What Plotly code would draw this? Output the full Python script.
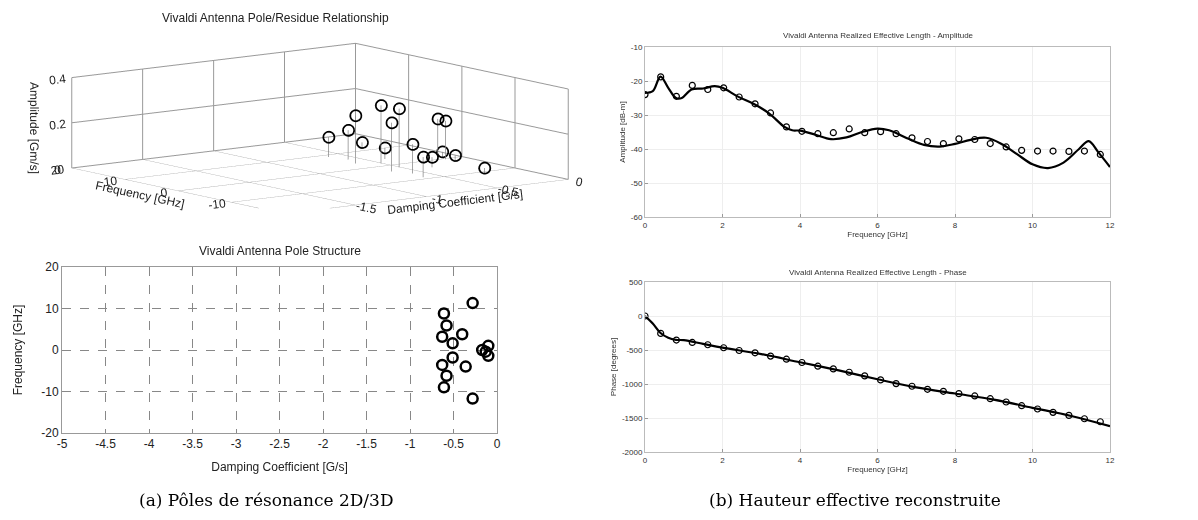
import plotly.graph_objects as go

# poles (damping [G/s], frequency [GHz]) and residue amplitude [Gm/s]
pole_damping = [-0.61, -0.61, -0.58, -0.58, -0.63, -0.63, -0.51, -0.51,
                -0.40, -0.36, -0.28, -0.28, -0.17, -0.10, -0.10, -0.13]
pole_freq = [8.8, -9.0, 5.9, -6.2, 3.2, -3.6, 1.6, -1.8,
             3.8, -4.0, 11.3, -11.7, 0.0, 1.0, -1.4, -0.4]
pole_amp = [0.088, 0.09, 0.131, 0.13, 0.213, 0.216, 0.257, 0.26,
            0.05, 0.045, 0.027, 0.03, 0.18, 0.024, 0.02, 0.17]

# measured effective length (markers)
meas_freq = [0, 0.405, 0.81, 1.22, 1.62, 2.03, 2.43, 2.84, 3.24, 3.65,
             4.05, 4.46, 4.86, 5.27, 5.67, 6.08, 6.48, 6.89, 7.29, 7.70,
             8.10, 8.51, 8.91, 9.32, 9.72, 10.13, 10.53, 10.94, 11.34, 11.75]
meas_amp = [-24.0, -18.8, -24.5, -21.3, -22.5, -22.0, -24.7, -26.7, -29.4, -33.5,
            -34.8, -35.5, -35.2, -34.1, -35.2, -34.9, -35.5, -36.7, -37.8, -38.4,
            -37.0, -37.2, -38.4, -39.4, -40.4, -40.6, -40.6, -40.7, -40.6, -41.6]
meas_phase = [0, -256, -354, -389, -423, -467, -507, -541, -590, -635,
              -684, -738, -778, -827, -881, -940, -994, -1033, -1078, -1107,
              -1142, -1176, -1216, -1265, -1319, -1368, -1417, -1462, -1511, -1555]

# reconstructed curves
rec_freq_a = [0, 0.2, 0.4, 0.6, 0.8, 0.95, 1.2, 1.5, 1.8, 2.0, 2.4, 2.8, 3.2, 3.6,
              3.8, 4.0, 4.4, 4.8, 5.2, 5.6, 6.0, 6.3, 6.8, 7.2, 7.6, 8.0, 8.4,
              8.8, 9.2, 9.6, 10.0, 10.4, 10.8, 11.2, 11.45, 11.7, 12.0]
rec_amp = [-23.5, -23.0, -18.7, -22.0, -25.0, -25.0, -22.5, -22.2, -21.5, -22.0,
           -24.6, -26.7, -29.5, -33.5, -34.5, -34.6, -35.8, -37.1, -36.6, -35.0,
           -34.0, -34.5, -37.0, -38.8, -39.3, -38.5, -37.3, -36.7, -38.5, -41.5,
           -44.5, -45.6, -44.0, -40.0, -37.7, -41.0, -45.3]
rec_freq_p = [0, 0.2, 0.4, 0.6, 0.8, 1.0, 1.5, 2, 3, 4, 5, 6, 7, 8, 9, 10, 11, 12]
rec_phase = [0, -110, -250, -320, -350, -355, -410, -465, -560, -680, -800,
             -930, -1050, -1140, -1230, -1350, -1470, -1620]

# tick labels (MATLAB style hyphen minus)
damp3d_ticks = [-2, -1.5, -1, -0.5, 0]
freq3d_ticks = [-20, -10, 0, 10, 20]
amp3d_ticks = [0, 0.2, 0.4]
damp2d_ticks = [-5, -4.5, -4, -3.5, -3, -2.5, -2, -1.5, -1, -0.5, 0]
freq2d_ticks = [-20, -10, 0, 10, 20]
fr_ticks = [0, 2, 4, 6, 8, 10, 12]
amp_ticks = [-60, -50, -40, -30, -20, -10]
phase_ticks = [-2000, -1500, -1000, -500, 0, 500]

W, H, OFF = 1198, 520, 8  # page body margin shifts the plot by 8px


def lab(v):
    return [f"{t:g}" for t in v]


def fx(p):
    return max(0.0, (p - OFF) / W)


def fy(p):
    return 1 - (p - OFF) / H


fig = go.Figure()

# 3D stems
sx, sy, sz = [], [], []
for d, f, a in zip(pole_damping, pole_freq, pole_amp):
    sx += [d, d, None]
    sy += [f, f, None]
    sz += [0, a, None]
fig.add_trace(go.Scatter3d(x=sx, y=sy, z=sz, mode="lines",
                           line=dict(color="#888", width=1.5), showlegend=False))
fig.add_trace(go.Scatter3d(x=pole_damping, y=pole_freq, z=pole_amp, mode="markers",
                           marker=dict(symbol="circle-open", size=7, color="black",
                                       line=dict(width=3, color="black")),
                           showlegend=False))

# 2D pole structure
fig.add_trace(go.Scatter(x=pole_damping, y=pole_freq, mode="markers",
                         marker=dict(symbol="circle-open", size=10, color="black",
                                     line=dict(width=2.5)),
                         xaxis="x", yaxis="y", showlegend=False))

# amplitude
fig.add_trace(go.Scatter(x=rec_freq_a, y=rec_amp, mode="lines", line_shape="spline",
                         line=dict(color="black", width=2.2), xaxis="x2", yaxis="y2",
                         showlegend=False))
fig.add_trace(go.Scatter(x=meas_freq, y=meas_amp, mode="markers",
                         marker=dict(symbol="circle-open", size=6, color="black",
                                     line=dict(width=1.2)),
                         xaxis="x2", yaxis="y2", showlegend=False))

# phase
fig.add_trace(go.Scatter(x=rec_freq_p, y=rec_phase, mode="lines", line_shape="spline",
                         line=dict(color="black", width=2.2), xaxis="x3", yaxis="y3",
                         showlegend=False))
fig.add_trace(go.Scatter(x=meas_freq, y=meas_phase, mode="markers",
                         marker=dict(symbol="circle-open", size=6, color="black",
                                     line=dict(width=1.2)),
                         xaxis="x3", yaxis="y3", showlegend=False))

font_l = dict(family="Liberation Sans, Arial", size=12, color="#222")
font_s = dict(family="Liberation Sans, Arial", size=8, color="#333")

ax_left = dict(showline=True, mirror=True, linecolor="#999", linewidth=1,
               gridcolor="#888", griddash="dash", zeroline=False, ticks="",
               tickfont=font_l, automargin=False)
ax_right = dict(showline=True, mirror=True, linecolor="#bbb", linewidth=1,
                gridcolor="#eee", zeroline=False, ticks="inside", ticklen=3,
                tickcolor="#999", tickfont=font_s, automargin=False)
ax_3d = dict(showbackground=False, gridcolor="#999", zeroline=False, tickfont=font_l,
             showspikes=False)

fig.update_layout(
    width=W, height=H, margin=dict(l=0, r=0, t=0, b=0),
    paper_bgcolor="white", plot_bgcolor="white",
    scene=dict(
        domain=dict(x=[fx(8), fx(632)], y=[fy(235), fy(22)]),
        xaxis=dict(ax_3d, range=[-2, 0], tickvals=damp3d_ticks, ticktext=lab(damp3d_ticks),
                   title=dict(text="Damping Coefficient [G/s]", font=font_l)),
        yaxis=dict(ax_3d, range=[-20, 20], tickvals=freq3d_ticks, ticktext=lab(freq3d_ticks),
                   title=dict(text="Frequency [GHz]", font=font_l)),
        zaxis=dict(ax_3d, range=[0, 0.4], tickvals=amp3d_ticks, ticktext=lab(amp3d_ticks),
                   title=dict(text="Amplitude [Gm/s]", font=font_l)),
        aspectmode="manual", aspectratio=dict(x=3.33, y=3.33, z=0.86),
        camera=dict(eye=dict(x=-1.14, y=-1.52, z=0.31), center=dict(x=0, y=0, z=0),
                    projection=dict(type="orthographic")),
    ),
    xaxis=dict(ax_left, domain=[fx(62), fx(497)], anchor="y", range=[-5, 0],
               tickvals=damp2d_ticks, ticktext=lab(damp2d_ticks),
               title=dict(text="Damping Coefficient [G/s]", font=font_l, standoff=12)),
    yaxis=dict(ax_left, domain=[fy(433), fy(267)], anchor="x", range=[-20, 20],
               tickvals=freq2d_ticks, ticktext=lab(freq2d_ticks),
               title=dict(text="Frequency [GHz]", font=font_l, standoff=16)),
    xaxis2=dict(ax_right, domain=[fx(645), fx(1110)], anchor="y2", range=[0, 12],
                tickvals=fr_ticks, ticktext=lab(fr_ticks),
                title=dict(text="Frequency [GHz]", font=font_s, standoff=2)),
    yaxis2=dict(ax_right, domain=[fy(217), fy(47)], anchor="x2", range=[-60, -10],
                tickvals=amp_ticks, ticktext=lab(amp_ticks),
                title=dict(text="Amplitude [dB-m]", font=font_s, standoff=4)),
    xaxis3=dict(ax_right, domain=[fx(645), fx(1110)], anchor="y3", range=[0, 12],
                tickvals=fr_ticks, ticktext=lab(fr_ticks),
                title=dict(text="Frequency [GHz]", font=font_s, standoff=2)),
    yaxis3=dict(ax_right, domain=[fy(452), fy(282)], anchor="x3", range=[-2000, 500],
                tickvals=phase_ticks, ticktext=lab(phase_ticks),
                title=dict(text="Phase [degrees]", font=font_s, standoff=4)),
    annotations=[
        dict(text="Vivaldi Antenna Pole/Residue Relationship", x=275, y=18),
        dict(text="Vivaldi Antenna Pole Structure", x=280, y=251),
        dict(text="Vivaldi Antenna Realized Effective Length - Amplitude", x=878, y=35,
             font=font_s),
        dict(text="Vivaldi Antenna Realized Effective Length - Phase", x=878, y=272,
             font=font_s),
        dict(text="(a) Pôles de résonance 2D/3D", x=266, y=500,
             font=dict(family="DejaVu Serif, Liberation Serif", size=17, color="black")),
        dict(text="(b) Hauteur effective reconstruite", x=855, y=500,
             font=dict(family="DejaVu Serif, Liberation Serif", size=17, color="black")),
    ],
)

for a in fig.layout.annotations:
    a.update(x=fx(a.x), y=fy(a.y), xref="paper", yref="paper",
             showarrow=False, xanchor="center", yanchor="middle")
    if a.font.size is None:
        a.font = font_l

fig.write_html("out.html")
